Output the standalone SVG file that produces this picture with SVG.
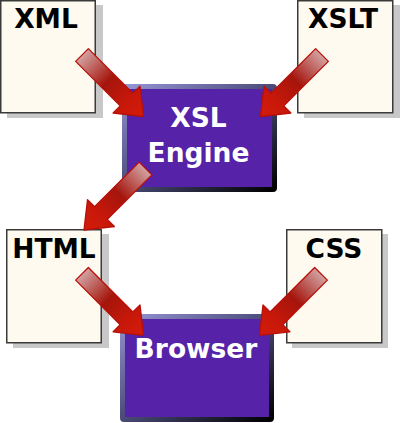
<svg xmlns="http://www.w3.org/2000/svg" width="400" height="423" viewBox="0 0 400 423">
<style>
.shadow{fill:#c8c8c8}
.doc{fill:#fffaf0;stroke:#3a3a3a;stroke-width:1.5}
.box{fill:#5522a8;stroke:url(#boxStroke);stroke-width:5}
.dtxt{font-family:"DejaVu Sans",sans-serif;font-weight:bold;font-size:26.5px;fill:#000;text-anchor:middle}
.btxt{font-family:"DejaVu Sans",sans-serif;font-weight:bold;font-size:26.5px;fill:#fff;text-anchor:middle}
.arrow{fill:url(#arrowFill);stroke:#b81008;stroke-width:1.3;stroke-linejoin:round}
</style>
<defs>
<linearGradient id="boxStroke" x1="0" y1="0" x2="1" y2="1">
<stop offset="0" stop-color="#9494d4"/>
<stop offset="0.5" stop-color="#4a4a78"/>
<stop offset="1" stop-color="#000"/>
</linearGradient>
<linearGradient id="arrowFill" gradientUnits="userSpaceOnUse" x1="0" y1="0" x2="87" y2="0">
<stop offset="0" stop-color="#d2a2a2"/>
<stop offset="0.42" stop-color="#a5150c"/>
<stop offset="0.75" stop-color="#c8180a"/>
<stop offset="1" stop-color="#d41c0a"/>
</linearGradient>
<polygon id="arr" class="arrow" points="0,-9 63,-9 63,-19 87,0 63,19 63,9 0,9"/>
</defs>
<g id="xml">
<rect class="shadow" x="7" y="5" width="96" height="113"/>
<rect class="doc" x="0.75" y="0.75" width="94.5" height="112"/>
<text class="dtxt" x="46" y="28">XML</text>
</g>
<g id="xslt">
<rect class="shadow" x="304" y="5" width="96" height="113"/>
<rect class="doc" x="297.75" y="0.75" width="95" height="112"/>
<text class="dtxt" x="343" y="28">XSLT</text>
</g>
<g id="engine">
<rect class="box" x="124.5" y="86.5" width="150" height="103" rx="1.5"/>
<text class="btxt" x="198.5" y="127">XSL</text>
<text class="btxt" x="198.5" y="162">Engine</text>
</g>
<g id="html">
<rect class="shadow" x="13" y="234" width="96" height="114"/>
<rect class="doc" x="6.75" y="229.75" width="94.5" height="113"/>
<text class="dtxt" x="54" y="258">HTML</text>
</g>
<g id="css">
<rect class="shadow" x="292" y="234" width="96" height="114"/>
<rect class="doc" x="286.75" y="229.75" width="95" height="113"/>
<text class="dtxt" x="334" y="258">CSS</text>
</g>
<g id="browser">
<rect class="box" x="122.5" y="316.5" width="149" height="103" rx="1.5"/>
<text class="btxt" x="196" y="358">Browser</text>
</g>
<g id="connectors">
<use href="#arr" transform="translate(82,55) rotate(45)"/>
<use href="#arr" transform="translate(322,55) rotate(135)"/>
<use href="#arr" transform="translate(145.5,168.5) rotate(135)"/>
<use href="#arr" transform="translate(82,273.8) rotate(45)"/>
<use href="#arr" transform="translate(321,273.8) rotate(135)"/>
</g>
</svg>
